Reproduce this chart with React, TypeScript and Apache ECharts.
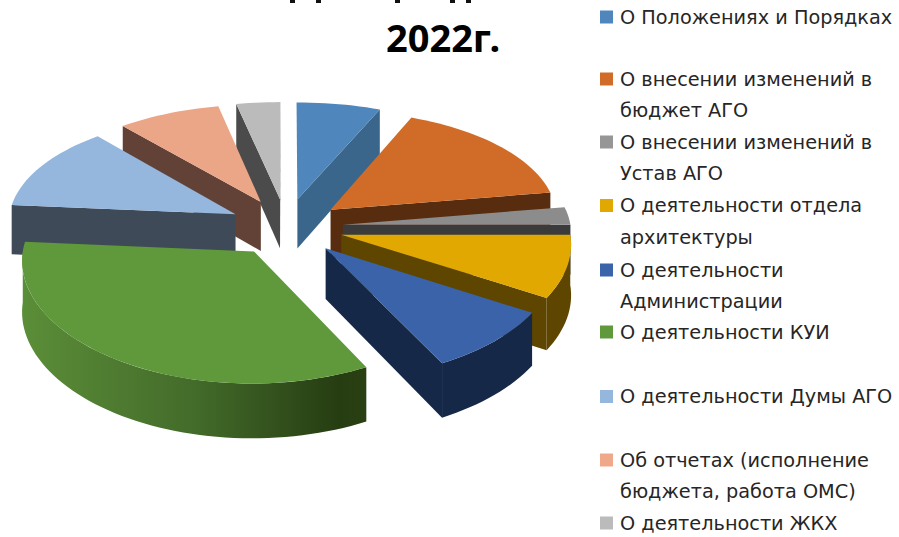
import React, { useEffect, useRef } from "react";
import * as echarts from "echarts";

const categories = [
  "О Положениях и Порядках",
  "О внесении изменений в\nбюджет АГО",
  "О внесении изменений в\nУстав АГО",
  "О деятельности отдела\nархитектуры",
  "О деятельности\nАдминистрации",
  "О деятельности КУИ",
  "О деятельности Думы АГО",
  "Об отчетах (исполнение\nбюджета, работа ОМС)",
  "О деятельности ЖКХ",
];
const shares = [6.5, 16.0, 2.5, 8.6, 8.7, 34.0, 12.3, 8.0, 3.4];
const topColors = ["#4f86bb", "#d06c27", "#8c8c8c", "#e0a800", "#3a63aa", "#60983c", "#95b6dd", "#eba587", "#bbbbbb"];
const legendColors = ["#4f86bb", "#d06c27", "#969696", "#e0a800", "#3a63aa", "#60983c", "#95b6dd", "#f0a88a", "#bbbbbb"];
const wallColors = ["#3a668c", "#582c0e", "#3b3b3b", "#5e4500", "#162848", "#3c5f24", "#3e4a57", "#624236", "#4b4b4b"];
const drawOrder = [8, 0, 7, 1, 6, 2, 3, 4, 5];
const legendRows = [17, 79, 142, 205.5, 270, 332, 396.5, 460, 523];

const CX = 286, CY = 227, RX = 228, RY = 115, BOW = 12, PERSP = 0.07, EXPLODE = 0.25, DEPTH = 50;
const rad = (d: number) => (d * Math.PI) / 180;

const total = shares.reduce((a, b) => a + b, 0);
const bounds = shares.reduce<number[]>((acc, v) => [...acc, acc[acc.length - 1] + (v / total) * 360], [0]);

function project(X: number, Y: number, down: boolean): number[] {
  const x = CX + RX * X * (1 + PERSP * Y);
  const y = CY + RY * Y + BOW * Y * Y + (down ? DEPTH + 4 * Y : 0);
  return [x, y];
}

function renderSlice(_params: any, api: any) {
  const i = api.value(0) as number;
  const a0 = bounds[i], a1 = bounds[i + 1], mid = (a0 + a1) / 2;
  const ox = EXPLODE * Math.sin(rad(mid)), oy = -EXPLODE * Math.cos(rad(mid));
  const rim = (a: number, down: boolean) => project(ox + Math.sin(rad(a)), oy - Math.cos(rad(a)), down);
  const apex = (down: boolean) => project(ox, oy, down);
  const sample = (from: number, to: number) => {
    const n = Math.max(2, Math.ceil(Math.abs(to - from) / 2));
    return Array.from({ length: n + 1 }, (_, k) => from + ((to - from) * k) / n);
  };
  const arc = sample(a0, a1);
  const children: any[] = [];
  const wall = (points: number[][], fill: any) =>
    children.push({ type: "polygon", shape: { points }, style: { fill, stroke: "none" } });

  if (Math.sin(rad(a0)) < 0) wall([apex(false), rim(a0, false), rim(a0, true), apex(true)], wallColors[i]);
  if (Math.sin(rad(a1)) > 0) wall([apex(false), rim(a1, false), rim(a1, true), apex(true)], wallColors[i]);

  const from = Math.max(a0, 90), to = Math.min(a1, 270);
  if (to > from) {
    const front = sample(from, to);
    const pts = [...front.map((a) => rim(a, false)), ...front.slice().reverse().map((a) => rim(a, true))];
    const fill =
      i === 5
        ? new echarts.graphic.LinearGradient(1, 0, 0, 0, [
            { offset: 0, color: "#2a4013" },
            { offset: 0.08, color: "#263d12" },
            { offset: 0.5, color: "#436b2a" },
            { offset: 1, color: "#5b8e38" },
          ])
        : wallColors[i];
    wall(pts, fill);
  }
  wall([apex(false), ...arc.map((a) => rim(a, false))], topColors[i]);
  return { type: "group", children };
}

export default function App() {
  const ref = useRef<HTMLDivElement>(null);
  useEffect(() => {
    const chart = echarts.init(ref.current!, undefined, { renderer: "svg" });
    const legend: any[] = [];
    categories.forEach((name, i) => {
      const y = legendRows[i];
      legend.push({ type: "rect", shape: { x: 600, y: y - 6.5, width: 13, height: 13 }, style: { fill: legendColors[i] } });
      name.split("\n").forEach((line, k) => {
        legend.push({
          type: "text",
          x: 620,
          y: y + k * 31.5,
          style: {
            text: line,
            fill: "#262626",
            font: '19.3px "DejaVu Sans"',
            verticalAlign: "middle",
          },
        });
      });
    });
    const clipped = [290, 316, 395, 450, 466].map((x) => ({
      type: "rect",
      shape: { x, y: 0, width: 5, height: 3 },
      style: { fill: "#111" },
    }));
    chart.setOption({
      animation: false,
      backgroundColor: "#fff",
      series: [
        {
          type: "custom",
          coordinateSystem: "none",
          silent: true,
          data: drawOrder.map((i) => ({ name: categories[i], value: [i, shares[i]] })),
          renderItem: renderSlice,
        },
      ],
      graphic: [
        ...clipped,
        {
          type: "text",
          x: 443,
          y: 37,
          style: {
            text: "2022г.",
            fill: "#000",
            font: 'bold 38px "Noto Sans"',
            align: "center",
            verticalAlign: "middle",
          },
        },
        ...legend,
      ],
    });
    return () => chart.dispose();
  }, []);
  return <div ref={ref} style={{ position: "absolute", left: 0, top: 0, width: 899, height: 537 }} />;
}
